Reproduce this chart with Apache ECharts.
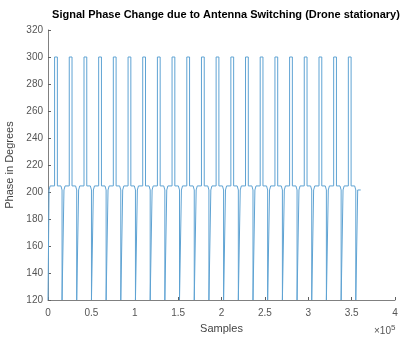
<!DOCTYPE html>
<html><head><meta charset="utf-8">
<script src="https://cdn.jsdelivr.net/npm/echarts@6/dist/echarts.min.js"></script>
<style>html,body{margin:0;padding:0;background:#fff}#c{width:407px;height:337px}</style>
</head><body><div id="c"></div>
<script>
// Positions (in samples)
const spikeCenters = [9200, 26100, 43100, 60000, 76900, 93900, 110800, 127700, 144600, 161600, 178500, 195400, 212400, 229300, 246200, 263200, 280100, 297000, 314000, 330900, 347800];
const dipCenters = [17300, 34200, 51200, 68100, 85000, 101900, 118900, 135800, 152700, 169700, 186600, 203500, 220500, 237400, 254300, 271300, 288200, 305100, 322000, 339000, 355900];
const startSample = 0, firstRise = 1200, endSample = 360500;
// Phase levels (degrees)
const highLevel = 300, lowLevel = 120, baseUpper = 204.5, baseLower = 201.5;
const spikeHalf = 1600, dipHalf = 1100, slopeSpan = 1300;
const xTicks = [0, 0.5, 1, 1.5, 2, 2.5, 3, 3.5, 4];
const yTicks = [120, 140, 160, 180, 200, 220, 240, 260, 280, 300, 320];

const pts = [[startSample, lowLevel], [firstRise, lowLevel], [firstRise, baseLower], [firstRise + slopeSpan, baseUpper]];
for (let k = 0; k < spikeCenters.length; k++) {
  const s = spikeCenters[k], d = dipCenters[k];
  pts.push([s - spikeHalf, baseUpper], [s - spikeHalf, highLevel], [s + spikeHalf, highLevel], [s + spikeHalf, baseUpper]);
  pts.push([d - dipHalf - slopeSpan, baseUpper], [d - dipHalf, baseLower], [d - dipHalf, lowLevel], [d + dipHalf, lowLevel], [d + dipHalf, baseLower]);
  if (k < spikeCenters.length - 1) pts.push([d + dipHalf + slopeSpan, baseUpper]);
  else pts.push([endSample, baseLower]);
}

const chart = echarts.init(document.getElementById('c'), null, {renderer: 'canvas'});
const FONT = 'Liberation Sans, Arial, sans-serif';
chart.setOption({
  animation: false,
  backgroundColor: '#ffffff',
  title: {
    text: 'Signal Phase Change due to Antenna Switching (Drone stationary)',
    left: 221, textAlign: 'center', top: 4,
    textStyle: {fontFamily: FONT, fontSize: 11, fontWeight: 'bold', color: '#000'}
  },
  grid: {left: 48, right: 12, top: 30, bottom: 37, containLabel: false, outerBoundsMode: 'none'},
  xAxis: {
    type: 'value', min: 0, max: 400000, interval: 50000,
    name: 'Samples', nameLocation: 'middle', nameGap: 23,
    nameTextStyle: {fontFamily: FONT, fontSize: 11, color: '#444'},
    axisLine: {lineStyle: {color: '#808080', width: 1}},
    axisTick: {inside: true, length: 3, lineStyle: {color: '#606060'}},
    axisLabel: {fontFamily: FONT, fontSize: 10, color: '#555', margin: 8,
      formatter: v => String(xTicks[Math.round(v / 50000)])},
    splitLine: {show: false}
  },
  yAxis: {
    type: 'value', min: yTicks[0], max: yTicks[yTicks.length - 1], interval: 20,
    name: 'Phase in Degrees', nameLocation: 'middle', nameGap: 28, nameRotate: 90,
    nameTextStyle: {fontFamily: FONT, fontSize: 11, color: '#444'},
    axisLine: {show: true, lineStyle: {color: '#808080', width: 1}},
    axisTick: {show: true, inside: true, length: 3, lineStyle: {color: '#606060'}},
    axisLabel: {fontFamily: FONT, fontSize: 10, color: '#555', margin: 5},
    splitLine: {show: false}
  },
  graphic: [{
    type: 'text', left: 374, top: 324,
    style: {text: '×10{s|5}', fontFamily: FONT, fontSize: 10, fill: '#555',
      rich: {s: {fontSize: 8, verticalAlign: 'top', padding: [0, 0, 6, 0], fill: '#555', fontFamily: FONT}}}
  }],
  series: [{
    type: 'line', data: pts, showSymbol: false, symbol: 'none',
    lineStyle: {color: '#5fa3d3', width: 1}, clip: true
  }]
});
</script></body></html>
